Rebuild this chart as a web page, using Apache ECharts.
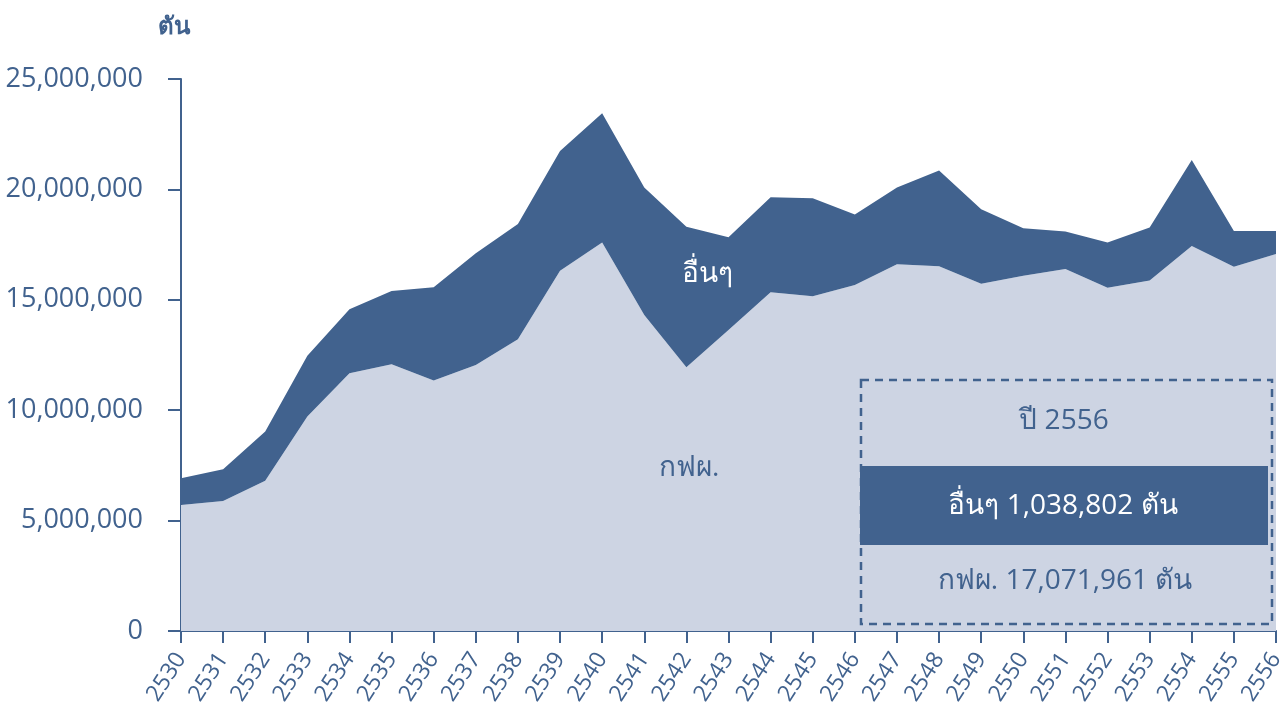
<!DOCTYPE html>
<html>
<head>
<meta charset="utf-8">
<script src="https://cdn.jsdelivr.net/npm/echarts@6/dist/echarts.min.js"></script>
<style>
html,body{margin:0;padding:0;background:#fff;}
#c{width:1287px;height:706px;}
</style>
</head>
<body>
<div id="c"></div>
<script>
var years = ['2530','2531','2532','2533','2534','2535','2536','2537','2538','2539','2540','2541','2542','2543','2544','2545','2546','2547','2548','2549','2550','2551','2552','2553','2554','2555','2556'];
// กฟผ. (EGAT) tonnes
var egat = [5710000,5890000,6810000,9710000,11670000,12080000,11340000,12050000,13210000,16320000,17590000,14310000,11940000,13630000,15340000,15160000,15670000,16610000,16520000,15730000,16090000,16400000,15550000,15870000,17440000,16500000,17071961];
// อื่นๆ (others) tonnes
var others = [1210000,1430000,2220000,2760000,2900000,3320000,4230000,5060000,5220000,5420000,5860000,5780000,6370000,4200000,4300000,4440000,3190000,3480000,4340000,3370000,2150000,1690000,2040000,2410000,3890000,1620000,1038802];
var yTicks = [0,5000000,10000000,15000000,20000000,25000000];
var unitLabel = 'ตัน';
var seriesNames = ['กฟผ.','อื่นๆ'];
var boxYear = 'ปี 2556';

var DARK = '#41628e', LIGHT = '#cdd4e3', TXT = '#41628e';
var FONT = '"Open Sans", "Noto Sans", "DejaVu Sans", sans-serif';
function fmt(v){ return String(v).replace(/\B(?=(\d{3})+(?!\d))/g, ','); }

var chart = echarts.init(document.getElementById('c'));
chart.setOption({
  animation: false,
  grid: {left: 181, right: 11, top: 79, bottom: 75, containLabel: false, outerBoundsMode: 'none'},
  xAxis: {
    type: 'category', data: years, boundaryGap: false,
    axisLine: {lineStyle: {color: DARK, width: 2}},
    axisTick: {show: true, length: 12, lineStyle: {color: DARK, width: 2}},
    axisLabel: {rotate: 57, color: TXT, fontSize: 23, fontFamily: FONT, margin: 24, interval: 0}
  },
  yAxis: {
    type: 'value', min: yTicks[0], max: yTicks[yTicks.length-1], interval: yTicks[1]-yTicks[0],
    name: unitLabel, nameLocation: 'end', nameGap: 40,
    nameTextStyle: {color: TXT, fontSize: 24, fontFamily: FONT, fontWeight: 'bold', align: 'center', padding: [0,14,0,0]},
    axisLine: {show: true, lineStyle: {color: DARK, width: 2}},
    axisTick: {show: true, length: 13, lineStyle: {color: DARK, width: 2}},
    splitLine: {show: false},
    axisLabel: {color: TXT, fontSize: 27, fontFamily: FONT, margin: 38, formatter: function(v){return fmt(v);}}
  },
  series: [
    {name: seriesNames[0], type: 'line', stack: 'total', data: egat, symbol: 'none',
     lineStyle: {width: 0}, areaStyle: {color: LIGHT, opacity: 1}, z: 2},
    {name: seriesNames[1], type: 'line', stack: 'total', data: others, symbol: 'none',
     lineStyle: {width: 0}, areaStyle: {color: DARK, opacity: 1}, z: 3}
  ],
  graphic: [
    {type: 'text', left: 682, top: 260, z: 10, style: {text: seriesNames[1], fill: '#ffffff', fontSize: 28, fontFamily: FONT}},
    {type: 'text', left: 659, top: 454, z: 10, style: {text: seriesNames[0], fill: TXT, fontSize: 28, fontFamily: FONT}},
    {type: 'rect', z: 10, shape: {x: 861, y: 380, width: 411, height: 244},
     style: {fill: 'none', stroke: DARK, lineWidth: 2.5, lineDash: [8, 6]}},
    {type: 'rect', z: 11, shape: {x: 860, y: 466, width: 408, height: 79}, style: {fill: DARK}},
    {type: 'text', z: 12, x: 1064, y: 421, style: {text: boxYear, fill: TXT, fontSize: 28, fontFamily: FONT, align: 'center', verticalAlign: 'middle'}},
    {type: 'text', z: 12, x: 1063, y: 506, style: {text: seriesNames[1] + ' ' + fmt(others[others.length-1]) + ' ' + unitLabel, fill: '#ffffff', fontSize: 28, fontFamily: FONT, align: 'center', verticalAlign: 'middle'}},
    {type: 'text', z: 12, x: 1065, y: 581, style: {text: seriesNames[0] + ' ' + fmt(egat[egat.length-1]) + ' ' + unitLabel, fill: TXT, fontSize: 28, fontFamily: FONT, align: 'center', verticalAlign: 'middle'}}
  ]
});
</script>
</body>
</html>
